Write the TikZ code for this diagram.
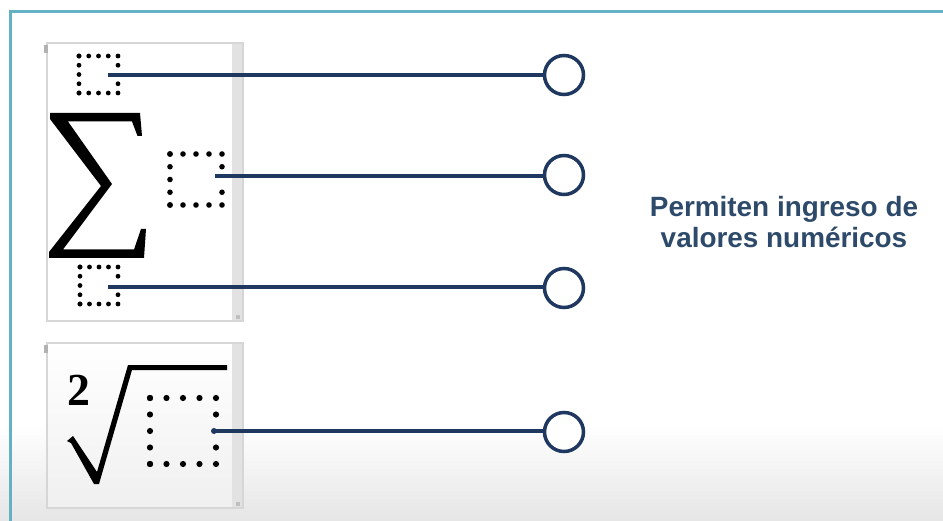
\documentclass[tikz,border=0pt]{standalone}
\usepackage{fontspec}
\setmainfont{Liberation Sans}
\newfontfamily\digitfont{Liberation Serif}
\definecolor{navy}{HTML}{1F3860}
\definecolor{frameblue}{HTML}{64B0C4}
\definecolor{txtblue}{HTML}{2E4A6B}
\definecolor{panelgray}{HTML}{D6D6D6}
\definecolor{scrollgray}{HTML}{E2E2E2}
\tikzset{
  conn/.style={draw=navy, line width=3.2bp},
  endcircle/.style={circle, draw=navy, line width=3.5bp, fill=white, minimum size=39bp, inner sep=0pt},
  panel/.style={draw=panelgray, line width=1.5bp, fill=white},
  dotmark/.style={fill=black},
  label/.style={text=txtblue, font=\bfseries\fontsize{28}{32}\selectfont, align=center},
}
% dotted box: x0 y0 x1 y1 dotradius
\newcommand{\dotbox}[5]{%
  \foreach \i in {0,...,4}{%
    \pgfmathsetmacro{\xx}{#1+\i*(#3-#1)/4}%
    \pgfmathsetmacro{\yy}{#2+\i*(#4-#2)/4}%
    \fill[dotmark] (\xx,#2) circle (#5);
    \fill[dotmark] (\xx,#4) circle (#5);
    \fill[dotmark] (#1,\yy) circle (#5);
  }%
  \foreach \i in {1,3}{%
    \pgfmathsetmacro{\yy}{#2+\i*(#4-#2)/4}%
    \fill[dotmark] (#3,\yy) circle (#5);
  }%
}
\begin{document}
\begin{tikzpicture}[x=1bp, y=-1bp]
\useasboundingbox (0,0) rectangle (943,521);
% background
\fill[white] (0,0) rectangle (943,521);
\shade[top color=white, bottom color=black!10] (0,425) rectangle (943,521);
% frame
\draw[frameblue, line width=3bp] (10,521) -- (10,12) -- (943,12);

% panels
\draw[panel] (47,43) rectangle (243,321);
\fill[scrollgray] (232,44) rectangle (242.2,320);
\fill[gray!60] (44,45) rectangle (48,53);
\fill[gray!50] (236,315) rectangle (240,319);

\shade[draw=panelgray, line width=1.5bp, top color=white, bottom color=black!6] (47,343) rectangle (243,508);
\fill[scrollgray] (232,344) rectangle (242.2,507);
\fill[gray!60] (44,345) rectangle (48,353);
\fill[gray!50] (236,502) rectangle (240,506);

% Sigma
\fill[black] (50,113) -- (140,113) -- (142,136) -- (137.5,136) -- (132,121.5) -- (68,121.5)
  -- (112,184) -- (63,249.5) -- (134,249.5) -- (141,229) -- (146,229) -- (144,258)
  -- (49,258) -- (49,252) -- (101,186) -- (50,119) -- cycle;

% radical
\node[font=\digitfont\bfseries\fontsize{46}{46}\selectfont, anchor=base] (two) at (79,405) {2};
\fill[black] (67,441) -- (73,436) -- (97,472) -- (128,365) -- (227,365) -- (227,370) -- (132,370)
  -- (99,484) -- (94,484) -- (71,443) -- cycle;

% dotted boxes
\dotbox{79}{56}{118}{93}{2.4bp}
\dotbox{170}{154}{222}{205}{2.8bp}
\dotbox{80}{267}{118}{304}{2.4bp}
\dotbox{150}{398}{216}{464}{3.1bp}

% line start points
\coordinate (s1) at (108,75);
\coordinate (s2) at (215,176);
\coordinate (s3) at (108,287);
\coordinate (s4) at (214,431);

% circles
\node[endcircle] (c1) at (564,75) {};
\node[endcircle] (c2) at (564,175) {};
\node[endcircle] (c3) at (564,288) {};
\node[endcircle] (c4) at (564,432) {};

\draw[conn] (s1) -- (s1 -| c1.west);
\draw[conn] (s2) -- (s2 -| c2.west);
\draw[conn] (s3) -- (s3 -| c3.west);
\draw[conn] (s4) -- (s4 -| c4.west);
\fill[navy] (s4) circle (3bp);

% text
\node[label] (txt) at (784,222) {Permiten ingreso de\\valores numéricos};
\end{tikzpicture}
\end{document}
